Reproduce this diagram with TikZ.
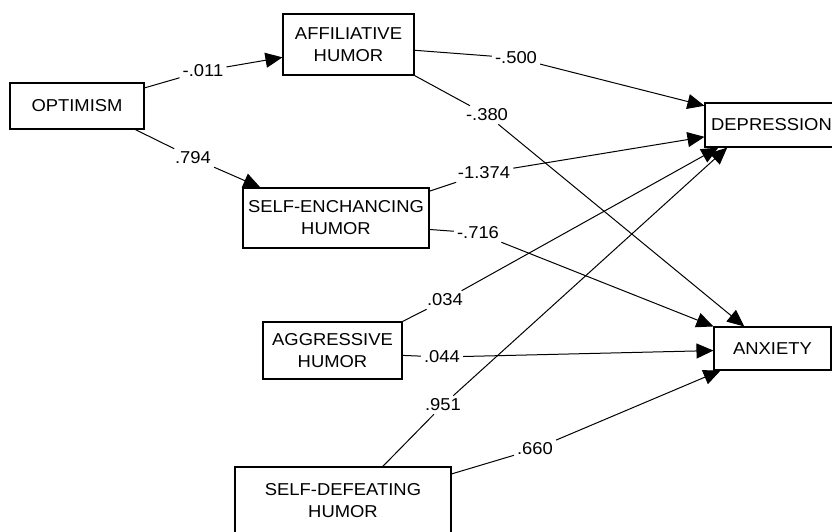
\documentclass[tikz,border=0pt]{standalone}
\usepackage{fontspec}
\newfontfamily\diagfont[FakeStretch=1.07]{Liberation Sans}
\usetikzlibrary{arrows.meta,positioning}

\begin{document}
\begin{tikzpicture}
	[x=1pt, y=-1pt, font=\diagfont\fontsize{17.2}{22}\selectfont,
	% STYLES
	>={Triangle[length=17pt,width=15pt]},
	% The varbox style is used to draw the observed variables
	varbox/.style={rectangle, draw, line width=1.1pt, inner sep=0pt, align=center},
	% The coef style is used to print the path coefficients
	coef/.style={rectangle, inner sep=3pt},
	% The link style is used to draw the paths
	link/.style={->, line width=1pt}]
	\path[use as bounding box, fill=white] (0,0) rectangle (832,532);
	% Draw variables
	\node [varbox, minimum width=134pt, minimum height=46pt] (optimism) at (77,106) {OPTIMISM};
	\node [varbox, minimum width=131pt, minimum height=61pt] (affiliative) at (348.5,44.5) {AFFILIATIVE\\HUMOR};
	\node [varbox, minimum width=186pt, minimum height=60pt] (selfenhancing) at (336,218) {SELF-ENCHANCING\\HUMOR};
	\node [varbox, minimum width=139pt, minimum height=57pt] (aggressive) at (332.5,350.5) {AGGRESSIVE\\HUMOR};
	\node [varbox, minimum width=216pt, minimum height=68pt] (selfdefeating) at (343,501) {SELF-DEFEATING\\HUMOR};
	\node [varbox, minimum width=133pt, minimum height=44pt] (depression) at (771.5,125) {DEPRESSION};
	\node [varbox, minimum width=117pt, minimum height=43pt] (anxiety) at (772.5,348.5) {ANXIETY};
	%%%%%%%%%%%%%%%
	% Coefficients
	\node [coef] (c-opt-aff) at (203,71) {-.011};
	\node [coef] (c-opt-se) at (193,158) {.794};
	\node [coef] (c-aff-dep) at (516,58) {-.500};
	\node [coef] (c-aff-anx) at (487,115) {-.380};
	\node [coef] (c-se-dep) at (484,173) {-1.374};
	\node [coef] (c-se-anx) at (478,233) {-.716};
	\node [coef] (c-agg-dep) at (445,300) {.034};
	\node [coef] (c-agg-anx) at (442,357) {.044};
	\node [coef] (c-sd-dep) at (443,405) {.951};
	\node [coef] (c-sd-anx) at (535,449) {.660};
	%%%%%%%%%%%%%%%
	% Draw the links between variables
	\draw [link] (optimism.15) -- (c-opt-aff) -- (affiliative.191);
	\draw [link] (optimism.-22) -- (c-opt-se) -- (selfenhancing.158);
	\draw [link] (affiliative.-5) -- (c-aff-dep) -- (depression.164);
	\draw [link] (affiliative.south east) -- (c-aff-anx) -- (anxiety.142);
	\draw [link] (selfenhancing.16) -- (c-se-dep) -- (depression.190);
	\draw [link] (selfenhancing.-7) -- (c-se-anx) -- (anxiety.north west);
	\draw [link] (aggressive.north east) -- (c-agg-dep) -- (depression.203);
	\draw [link] (aggressive.-4) -- (c-agg-anx) -- (anxiety.182);
	\draw [link] (selfdefeating.41) -- (c-sd-dep) -- (depression.207);
	\draw [link] (selfdefeating.14) -- (c-sd-anx) -- (anxiety.203);
\end{tikzpicture}
\end{document}
